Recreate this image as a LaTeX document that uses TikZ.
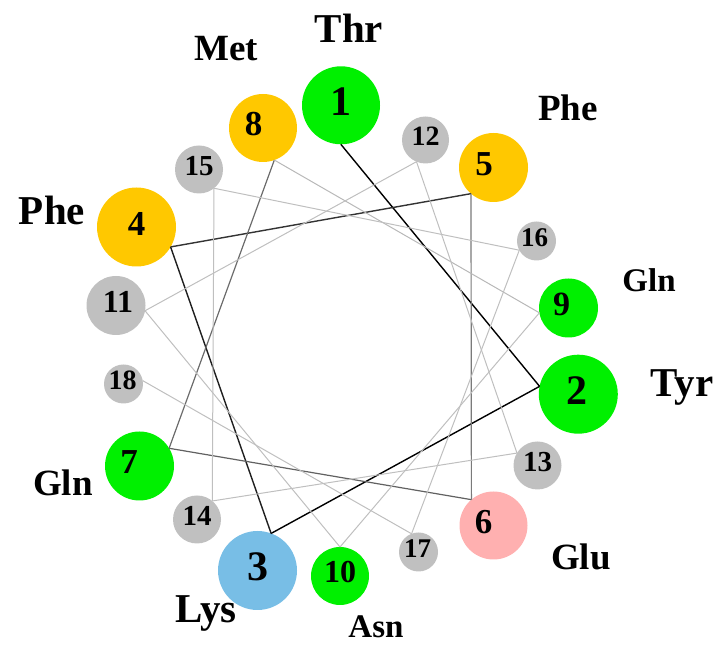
\documentclass[tikz,border=0pt]{standalone}
\usepackage{fontspec}
\setmainfont{Liberation Serif}
\usetikzlibrary{calc}
\definecolor{rgreen}{HTML}{00F000}
\definecolor{rorange}{HTML}{FFC800}
\definecolor{rgray}{HTML}{C0C0C0}
\definecolor{rblue}{HTML}{78BEE6}
\definecolor{rpink}{HTML}{FFB0B0}
\begin{document}
\begin{tikzpicture}[x=1pt,y=1pt,
  res/.style={circle, inner sep=0pt, draw=none},
  num/.style={font=\bfseries\fontsize{#1}{#1}\selectfont, inner sep=0pt},
  aa/.style={font=\bfseries\fontsize{#1}{#1}\selectfont, anchor=base, inner sep=0pt},
  link/.style={line width=#1}
]
\useasboundingbox (0,0) rectangle (721,645);
\coordinate (O) at (340,299);
% residues
\foreach \i/\x/\y/\r/\col/\fs/\dx in {
  1/341/539.7/39/rgreen/42/0,
  2/578.3/250.8/39.5/rgreen/42/-1,
  3/257.5/74.5/39.5/rblue/42/0,
  4/136.5/418/39.5/rorange/35/0,
  5/493.5/477.5/34.5/rorange/35/-9.5,
  6/493.5/119.5/34/rpink/35/-10,
  7/139.5/179/34.5/rgreen/35/-10.5,
  8/263/517/34/rorange/35/-9.5,
  9/568.5/337/29.5/rgreen/34/-7,
  10/340/69/29/rgreen/32/0,
  11/116/339.5/29.5/rgray/32/2,
  12/425.5/505/23.5/rgray/28/0,
  13/537.5/179.5/24/rgray/29/0,
  14/197/125.5/24/rgray/29/0,
  15/199/475.5/24/rgray/29/0,
  16/536.5/404/19.5/rgray/27/-2,
  17/418.5/93/19.5/rgray/27/-1,
  18/123.5/261/19.5/rgray/28/-1}
{
  \node[res, fill=\col, minimum size=2*\r,
        label={[num=\fs, xshift=\dx pt, yshift=3.5pt]center:\i}] (c\i) at (\x,\y) {};
  \coordinate (p\i) at ($(c\i)!\r pt!(O)$);
}
% helix connectors
\foreach \i/\j/\c/\w in {
  1/2/black/1.4, 2/3/black/1.4, 3/4/black!88/1.4, 4/5/black!80/1.4,
  5/6/black!52/1.2, 6/7/black!62/1.2, 7/8/black!58/1.2,
  8/9/black!28/1, 9/10/black!25/1, 10/11/black!25/1, 11/12/black!25/1,
  12/13/black!25/1, 13/14/black!25/1, 14/15/black!25/1, 15/16/black!25/1,
  16/17/black!25/1, 17/18/black!25/1}
{
  \draw[draw=\c, link=\w pt] (p\i) -- (p\j);
}
% residue names
\node[aa=41] (n1) at (349,602) {Thr};
\node[aa=41] (n2) at (682,248) {Tyr};
\node[aa=41] (n3) at (206,22) {Lys};
\node[aa=41] (n4) at (52,420) {Phe};
\node[aa=37] (n5) at (568,524) {Phe};
\node[aa=37] (n6) at (581,75) {Glu};
\node[aa=37] (n7) at (63,149) {Gln};
\node[aa=37] (n8) at (226,584) {Met};
\node[aa=33] (n9) at (649,353) {Gln};
\node[aa=33] (n10) at (376,7) {Asn};
\end{tikzpicture}
\end{document}
